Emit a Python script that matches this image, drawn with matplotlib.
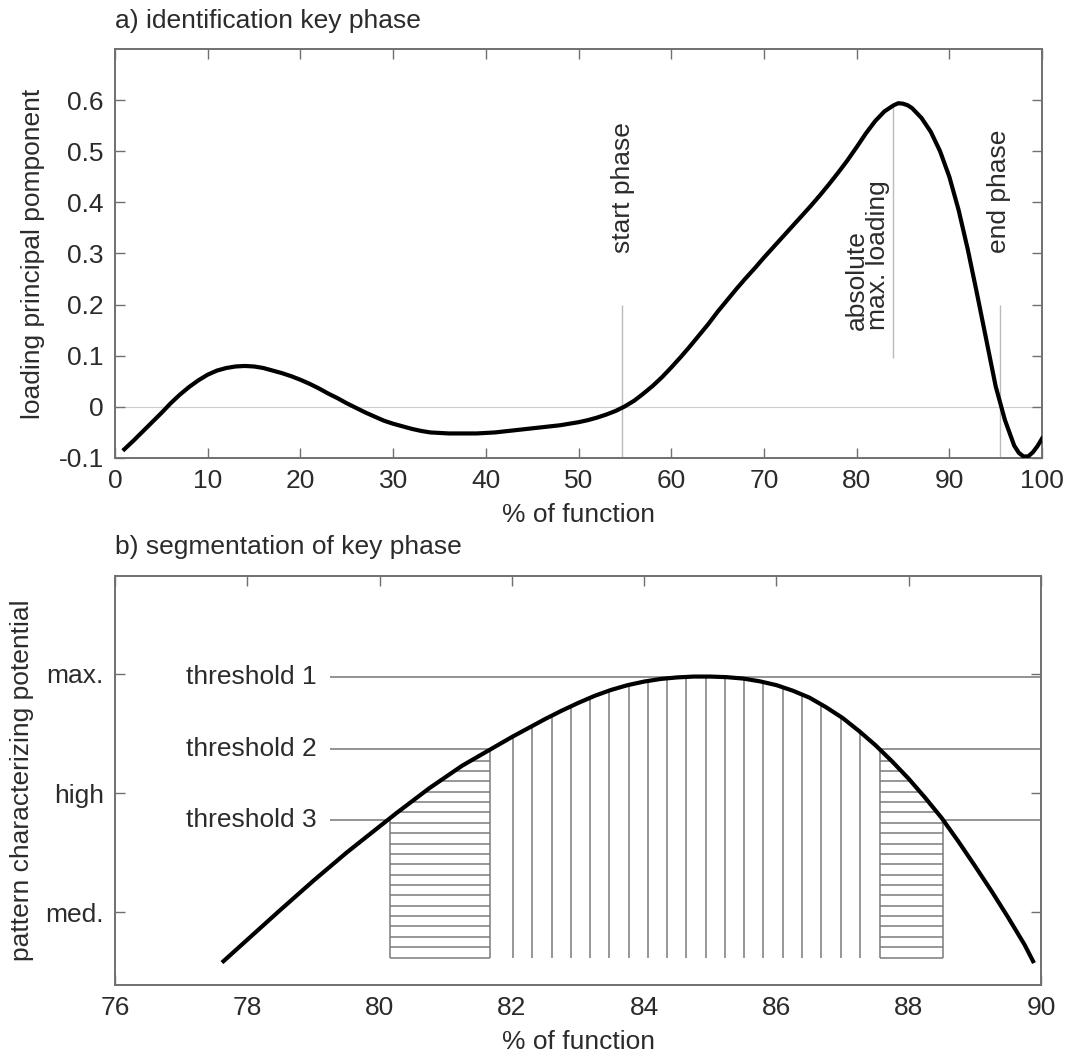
import numpy as np
import matplotlib.pyplot as plt
from matplotlib.patches import Polygon

plt.rcParams['font.family'] = ['Liberation Sans', 'DejaVu Sans']
plt.rcParams['axes.unicode_minus'] = False

# --- panel a: loading of the principal component ---
pct_a = [1, 2, 3, 4, 5, 6, 7, 8, 9, 10, 11, 12, 13, 14, 15, 16, 17, 18, 19, 20,
         21, 22, 23, 24, 25, 26, 27, 28, 29, 30, 31, 32, 33, 34, 35, 36, 37, 38,
         39, 40, 41, 42, 43, 44, 45, 46, 47, 48, 49, 50, 51, 52, 53, 54, 55, 56,
         57, 58, 59, 60, 61, 62, 63, 64, 65, 66, 67, 68, 69, 70, 71, 72, 73, 74,
         75, 76, 77, 78, 79, 80, 81, 82, 83, 84, 84.5, 85, 85.5, 86, 87, 88, 89,
         90, 91, 92, 93, 94, 95, 96, 97, 97.5, 98, 98.5, 99, 99.5, 100]
loading = [-0.083, -0.066, -0.048, -0.030, -0.012, 0.007, 0.024, 0.039, 0.052,
           0.063, 0.071, 0.076, 0.079, 0.080, 0.079, 0.076, 0.071, 0.066, 0.060,
           0.053, 0.045, 0.036, 0.026, 0.017, 0.007, -0.002, -0.011, -0.019,
           -0.027, -0.033, -0.038, -0.043, -0.047, -0.050, -0.051, -0.052, -0.052,
           -0.052, -0.052, -0.051, -0.050, -0.048, -0.046, -0.044, -0.042, -0.040,
           -0.038, -0.036, -0.033, -0.030, -0.026, -0.021, -0.015, -0.008, 0.001,
           0.012, 0.026, 0.041, 0.058, 0.077, 0.097, 0.118, 0.140, 0.162, 0.186,
           0.208, 0.230, 0.251, 0.271, 0.292, 0.312, 0.332, 0.352, 0.372, 0.392,
           0.413, 0.435, 0.458, 0.482, 0.508, 0.535, 0.559, 0.578, 0.590, 0.594,
           0.593, 0.590, 0.584, 0.565, 0.538, 0.500, 0.450, 0.385, 0.307, 0.220,
           0.130, 0.040, -0.026, -0.076, -0.090, -0.097, -0.097, -0.089, -0.077,
           -0.062]
a_xticks = [0, 10, 20, 30, 40, 50, 60, 70, 80, 90, 100]
a_yticks = [-0.1, 0, 0.1, 0.2, 0.3, 0.4, 0.5, 0.6]
a_yticklabels = ['-0.1', '0', '0.1', '0.2', '0.3', '0.4', '0.5', '0.6']
start_phase = 54.7
end_phase = 95.5
max_loading = 83.9

# --- panel b: segmentation of the key phase ---
pct_b = [77.64, 78.0, 78.5, 79.0, 79.5, 80.0, 80.25, 80.5, 80.75, 81.0, 81.25,
         81.5, 81.75, 82.0, 82.25, 82.5, 82.75, 83.0, 83.25, 83.5, 83.75, 84.0,
         84.25, 84.5, 84.75, 85.0, 85.25, 85.5, 85.75, 86.0, 86.25, 86.5, 86.75,
         87.0, 87.25, 87.5, 87.75, 88.0, 88.25, 88.5, 88.75, 89.0, 89.25, 89.5,
         89.75, 89.88]
potential = [0.59, 0.77, 1.02, 1.265, 1.50, 1.72, 1.83, 1.935, 2.04, 2.135, 2.23,
             2.31, 2.39, 2.47, 2.545, 2.62, 2.69, 2.755, 2.815, 2.865, 2.905,
             2.935, 2.957, 2.970, 2.977, 2.977, 2.972, 2.960, 2.937, 2.905, 2.858,
             2.80, 2.72, 2.63, 2.52, 2.40, 2.265, 2.12, 1.96, 1.79, 1.595, 1.39,
             1.18, 0.96, 0.73, 0.59]
b_xticks = [76, 78, 80, 82, 84, 86, 88, 90]
b_yticks = [1, 2, 3]
b_yticklabels = ['med.', 'high', 'max.']
thresholds = [2.975, 2.37, 1.775]
threshold_names = ['threshold 1', 'threshold 2', 'threshold 3']
threshold_from = 79.25
hatch_base = 0.62
left_block = (80.16, 81.67)
right_block = (87.57, 88.52)
middle_span = (82.02, 87.26)

FS = 19
TXT = '#2b2b2b'
AX = '#707070'


def style_axes(ax):
    for s in ax.spines.values():
        s.set_color(AX)
        s.set_linewidth(1.4)
    ax.tick_params(direction='in', length=7, width=1, color=AX, top=True, right=True,
                   labelsize=FS, labelcolor=TXT, pad=8)


fig = plt.figure(figsize=(10.68, 10.56), dpi=100)
ax1 = fig.add_axes([0.1077, 0.5663, 0.868, 0.3873])
ax2 = fig.add_axes([0.1077, 0.0672, 0.867, 0.3873])

# panel a
ax1.axhline(0, color='#cccccc', lw=0.8, zorder=1)
ax1.vlines([start_phase, end_phase], -0.1, 0.2, color='#bbbbbb', lw=1, zorder=1)
ax1.vlines(max_loading, 0.095, 0.59, color='#bbbbbb', lw=1, zorder=1)
ax1.plot(pct_a, loading, color='black', lw=3, solid_joinstyle='round', zorder=3)
ax1.text(start_phase + 0.15, 0.30, 'start phase', rotation=90, ha='center', va='bottom',
         fontsize=FS, color=TXT)
ax1.text(end_phase - 0.15, 0.30, 'end phase', rotation=90, ha='center', va='bottom',
         fontsize=FS, color=TXT)
ax1.text(83.55, 0.15, 'absolute\nmax. loading', rotation=90, ha='right', va='bottom',
         multialignment='left', linespacing=0.8, fontsize=FS, color=TXT)
ax1.set_xlim(0, 100)
ax1.set_ylim(-0.1, 0.7)
ax1.set_xticks(a_xticks)
ax1.set_yticks(a_yticks)
ax1.set_yticklabels(a_yticklabels)
style_axes(ax1)
ax1.set_xlabel('% of function', fontsize=FS, color=TXT, labelpad=7)
ax1.set_ylabel('loading principal pomponent', fontsize=FS, color=TXT)
ax1.yaxis.set_label_coords(-0.0755, 0.5)
ax1.set_title('a) identification key phase', loc='left', fontsize=FS, color=TXT, pad=15)

# panel b
ylo, yhi = 0.39, 3.82
ax2.hlines(thresholds, threshold_from, 90, color='#777777', lw=1.1, zorder=1)
for t, name in zip(thresholds, threshold_names):
    ax2.text(threshold_from - 0.2, t, name, ha='right', va='center', fontsize=FS, color=TXT)

# white area under the curve hides the threshold lines and clips the hatching
under = [(pct_b[0], ylo)] + list(zip(pct_b, potential)) + [(pct_b[-1], ylo)]
area = Polygon(under, closed=True, facecolor='white', edgecolor='none', zorder=2,
               transform=ax2.transData)
ax2.add_patch(area)

hatch_kw = dict(color='#7a7a7a', lw=1.1, zorder=3)
for x1, x2 in (left_block, right_block):
    hy = np.arange(hatch_base, 3.0, 0.087)
    lc = ax2.hlines(hy, x1, x2, **hatch_kw)
    lc.set_clip_path(area)
    lc = ax2.vlines([x1, x2], hatch_base, 3.2, **hatch_kw)
    lc.set_clip_path(area)
vx = np.linspace(middle_span[0], middle_span[1], 19)
lc = ax2.vlines(vx, hatch_base, 3.2, **hatch_kw)
lc.set_clip_path(area)

ax2.plot(pct_b, potential, color='black', lw=3, solid_joinstyle='round', zorder=4)
ax2.set_xlim(76, 90)
ax2.set_ylim(ylo, yhi)
ax2.set_xticks(b_xticks)
ax2.set_yticks(b_yticks)
ax2.set_yticklabels(b_yticklabels)
style_axes(ax2)
ax2.set_xlabel('% of function', fontsize=FS, color=TXT, labelpad=7)
ax2.set_ylabel('pattern characterizing potential', fontsize=FS, color=TXT)
ax2.yaxis.set_label_coords(-0.087, 0.5)
ax2.set_title('b) segmentation of key phase', loc='left', fontsize=FS, color=TXT, pad=16)

fig.savefig('out.png', dpi=100)
